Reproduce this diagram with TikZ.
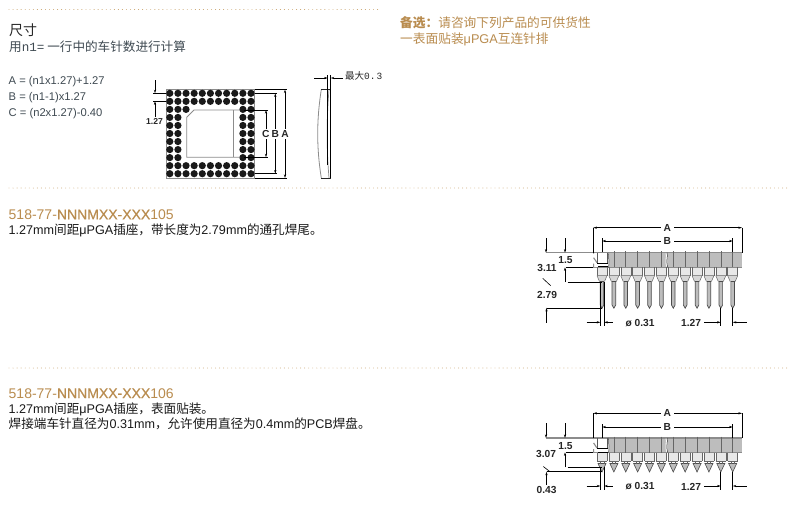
\documentclass[tikz,border=0pt]{standalone}
\usepackage{fontspec}
\setmainfont{Liberation Sans}
\setmonofont{Liberation Mono}
\newfontfamily\cj{Noto Sans CJK SC}
\usetikzlibrary{arrows.meta}
\definecolor{brownish}{HTML}{B98C4F}
\definecolor{dotbrown}{HTML}{C49A5E}
\definecolor{slatetext}{HTML}{3F4A52}
\definecolor{bodygrey}{HTML}{BDBDBD}
\definecolor{edgegrey}{HTML}{8C8C8C}
\tikzset{
  lbl/.style={inner sep=0pt,anchor=base west,text=slatetext},
  dotrule/.style={line width=0.9pt,dotbrown,line cap=round,dash pattern=on 0pt off 4.05pt},
  dimline/.style={line width=0.6pt,black},
  dim/.style={dimline,{Stealth[length=3.6pt,width=2.2pt]}-{Stealth[length=3.6pt,width=2.2pt]}},
  dimto/.style={dimline,-{Stealth[length=3.6pt,width=2.2pt]}},
  dimlbl/.style={inner sep=0pt,font=\bfseries\fontsize{10.2}{11}\selectfont,text=black!85},
  maskd/.style={fill=white,inner sep=1.5pt},
  ball/.style={fill=black!90},
  greyln/.style={line width=0.7pt,edgegrey}
}
\newcommand{\pinbody}[1]{% y of body top
  \foreach \i in {0,...,11}{
    \pgfmathsetmacro{\px}{602+11.88*\i}
    \fill[bodygrey!35] (\px-5,#1+14.6) rectangle (\px+5,#1+23);
  }
  \fill[bodygrey] (609,#1) rectangle (742,#1+14.6);
  \draw[greyln,line width=1.1pt] (546,#1) -- (742,#1);
  \draw[greyln] (593.3,#1+14.6) -- (742,#1+14.6);
  \draw[greyln,line width=1.1pt] (593.6,#1) -- (593.6,#1+1) (593.6,#1+5) -- (597,#1+10) (593.6,#1+14.6) -- (593.6,#1+11);
  \draw[line width=0.5pt,black!75] (608,#1) .. controls (610,#1+4) and (607,#1+5) .. (609,#1+8) .. controls (610,#1+10) and (608,#1+12) .. (608.5,#1+14.6);
  \fill[white] (665.6,#1+0.7) .. controls (667,#1+4) and (664,#1+7) .. (666.5,#1+14.2) -- (668,#1+14.2) .. controls (666,#1+7) and (669,#1+4) .. (667.1,#1+0.7) -- cycle;
  \draw[line width=0.5pt,black!85] (667,#1) .. controls (668.4,#1+4) and (665.4,#1+7) .. (667.8,#1+14.6);
  \draw[line width=0.7pt,black] (597,#1+10.5) -- (608,#1+10.5) (598,#1+14) -- (608,#1+14);
  \draw[line width=0.45pt,black!65] (597.3,#1) -- (597.3,#1+10) (607.3,#1) -- (607.3,#1+10);
  \foreach \i in {0,...,11}{
    \pgfmathsetmacro{\px}{602+11.88*\i}
    \ifnum\i>0
      \draw[line width=0.55pt,black!60] (\px,#1-1.5) -- (\px,#1+14.6);
    \fi
    \draw[line width=0.5pt,black!60] (\px-5,#1+14.6) -- (\px-5,#1+23) (\px+5,#1+14.6) -- (\px+5,#1+23);
  }
}
\begin{document}
\begin{tikzpicture}[x=1pt,y=-1pt]
\useasboundingbox[fill=white] (0,0) rectangle (800,519);

% dotted rules
\coordinate (r1a) at (9,9.5); \coordinate (r1b) at (379,9.5);
\coordinate (r2a) at (9,188); \coordinate (r2b) at (790,188);
\coordinate (r3a) at (9,368); \coordinate (r3b) at (790,368);
\draw[dotrule] (r1a) -- (r1b);
\draw[dotrule] (r2a) -- (r2b);
\draw[dotrule] (r3a) -- (r3b);

% heading text
\node[lbl,text=black!85,font=\fontsize{14}{16}\selectfont] (title) at (9,36) {\cj 尺寸};
\node[lbl,font=\fontsize{12.6}{14}\selectfont] (hint) at (9,51.6) {\cj 用{\ttfamily n1=} 一行中的车针数进行计算};
\node[lbl,font=\fontsize{11.2}{12}\selectfont] (fa) at (8.5,84.7) {A = (n1x1.27)+1.27};
\node[lbl,font=\fontsize{11.2}{12}\selectfont] (fb) at (8.5,100.7) {B = (n1-1)x1.27};
\node[lbl,font=\fontsize{11.2}{12}\selectfont] (fc) at (8.5,116.7) {C = (n2x1.27)-0.40};
\node[lbl,text=brownish,font=\fontsize{12.7}{13}\selectfont] (alt1) at (400,28) {\cj {\bfseries 备选：}请咨询下列产品的可供货性};
\node[lbl,text=brownish,font=\fontsize{12.7}{13}\selectfont] (alt2) at (400,44) {\cj 一表面贴装{\fontspec{Liberation Sans}μPGA}互连针排};

% section texts
\node[lbl,text=brownish,font=\fontsize{14}{16}\selectfont] (p1) at (8.5,219.3) {518-77-{\addfontfeatures{FakeBold=0.5}NNNMXX-XXX}105};
\node[lbl,text=black!90,font=\fontsize{12.6}{14}\selectfont] (p1a) at (8.5,234) {1.27mm{\cj 间距}μPGA{\cj 插座，带长度为}2.79mm{\cj 的通孔焊尾。}};
\node[lbl,text=brownish,font=\fontsize{14}{16}\selectfont] (p2) at (8.5,398) {518-77-{\addfontfeatures{FakeBold=0.5}NNNMXX-XXX}106};
\node[lbl,text=black!90,font=\fontsize{12.6}{14}\selectfont] (p2a) at (8.5,413.3) {1.27mm{\cj 间距}μPGA{\cj 插座，表面贴装。}};
\node[lbl,text=black!90,font=\fontsize{12.6}{14}\selectfont] (p2b) at (8.5,428.3) {{\cj 焊接端车针直径为}0.31mm{\cj ，允许使用直径为}0.4mm{\cj 的}PCB{\cj 焊盘。}};

% top view: package
\draw[edgegrey,line width=0.7pt] (166,89.5) rectangle (254.5,178);
\draw[edgegrey,line width=1.4pt] (166.3,89.5) -- (166.3,178);
\foreach \r in {0,...,10}{
  \foreach \c in {0,...,10}{
    \pgfmathtruncatemacro{\show}{(\r<2)||(\r>8)||(\c<2)||(\c>8)||(\r==2&&\c==2)?1:0}
    \ifnum\show=1
      \fill[ball] (169.8+8.12*\c,93.3+8.04*\r) circle (3.6pt);
    \fi
  }
}
\draw[edgegrey,line width=0.8pt] (240,110) -- (194,110) -- (186.7,117.3) -- (186.7,157.3) -- (240,157.3);
\draw[edgegrey,line width=0.8pt] (233.5,110) -- (233.5,157.3);

% top view: dimensions
\draw[dimline] (254.5,89.5) -- (287,89.5) (254.5,178) -- (287,178);
\draw[dimline] (254.5,93.3) -- (277,93.3) (254.5,173.7) -- (277,173.7);
\draw[dimline] (244,110) -- (268,110) (244,157.3) -- (268,157.3);
\draw[dim] (285,89.5) -- (285,178);
\draw[dim] (275.3,93.3) -- (275.3,173.7);
\draw[dim] (266,110) -- (266,157.3);
\node[dimlbl,maskd] (la) at (285,133.7) {A};
\node[dimlbl,maskd] (lb) at (275.3,133.7) {B};
\node[dimlbl,maskd] (lc) at (265.7,133.7) {C};
\draw[dimline] (153,93.3) -- (166,93.3) (153,101.3) -- (166,101.3);
\draw[dimto] (155,80) -- (155,93.3);
\draw[dimto] (155,116.7) -- (155,101.3);
\node[dimlbl,font=\bfseries\fontsize{8.6}{9}\selectfont] (l127) at (154.5,121.5) {1.27};

% side view
\draw[edgegrey,line width=0.8pt] (321.3,89.5) .. controls (316.5,120) and (316.5,148) .. (321.3,178);
\draw[edgegrey,line width=0.7pt] (329,89.5) .. controls (326.5,120) and (326.5,148) .. (329,178);
\draw[line width=0.7pt,black!85] (321.3,89.5) -- (330.7,89.5) (321.3,178) -- (330.7,178);
\draw[line width=0.7pt,black] (330.7,75) -- (330.7,178);
\draw[line width=0.7pt,black] (327.7,75) -- (327.7,165);
\draw[dimto] (314,78) -- (327.7,78);
\draw[dimto] (343,78) -- (330.7,78);
\node[lbl,text=black!85,font=\fontsize{9.5}{11}\selectfont] (lmax) at (345,79) {\cj 最大{\fontspec{Liberation Mono}0.\kern1pt 3}};

% socket 105
\pinbody{252.7}
\foreach \i in {0,...,11}{
  \pgfmathsetmacro{\px}{602+11.88*\i}
  \fill[bodygrey!60] (\px-5,275.7) -- (\px+5,275.7) -- (\px+2.5,281.5) -- (\px-2.5,281.5) -- cycle;
  \draw[line width=0.5pt,black!60] (\px-5,275.7) -- (\px+5,275.7) (\px-5,275.7) -- (\px-2.5,281.5) (\px+5,275.7) -- (\px+2.5,281.5);
  \draw[line width=0.7pt,black!70,fill=bodygrey] (\px-1.8,281.5) -- (\px-1.8,305) -- (\px,308.2) -- (\px+1.8,305) -- (\px+1.8,281.5) -- cycle;
}
\draw[dimline] (593.3,227.7) -- (593.3,252.7);
\draw[dimline] (742,227.7) -- (742,252.7);
\draw[dim] (593.3,227.7) -- (742,227.7);
\node[dimlbl,maskd,inner xsep=3pt] (a1) at (667.3,227.7) {A};
\draw[dimline] (602.3,238) -- (602.3,252);
\draw[dimline] (732.7,238) -- (732.7,252);
\draw[dim] (602.3,241) -- (732.7,241);
\node[dimlbl,maskd,inner xsep=3pt] (b1) at (667.3,241) {B};
\draw[dimline] (566,267.3) -- (593.3,267.3);
\draw[dimto] (546,238) -- (546,252.7);
\draw[dimto] (565,238) -- (565,252.7);
\draw[dimto] (565,282) -- (565,267.3);
\draw[dimline] (567.7,282) -- (601.7,282);
\draw[dimline] (542.7,278.3) -- (550.7,285.7);
\draw[dimline] (546.5,307.8) -- (601.7,307.8);
\draw[dimto] (546.5,322.7) -- (546.5,307.8);
\node[dimlbl] (d15a) at (565.5,260.5) {1.5};
\node[dimlbl] (d311) at (547,268) {3.11};
\node[dimlbl] (d279) at (547,295.3) {2.79};
\draw[dimline] (600.4,282) -- (600.4,326) (604.2,282) -- (604.2,326);
\draw[dimto] (586.7,322.3) -- (600.4,322.3);
\draw[dimto] (612.7,322.3) -- (604.2,322.3);
\node[dimlbl] (dd1) at (640,323) {ø 0.31};
\draw[dimline] (720.7,308) -- (720.7,326) (732.7,308) -- (732.7,326);
\draw[dimto] (704.3,322.3) -- (720.7,322.3);
\draw[dimto] (746.7,322.3) -- (732.7,322.3);
\node[dimlbl] (d127a) at (691,323) {1.27};

% socket 106
\pinbody{438}
\foreach \i in {0,...,11}{
  \pgfmathsetmacro{\px}{602+11.88*\i}
  \draw[line width=0.5pt,black!60] (\px-5,461) -- (\px+5,461);
  \draw[line width=0.6pt,black!70,fill=bodygrey] (\px-4,463.5) -- (\px,472) -- (\px+4,463.5) -- cycle;
  \draw[line width=0.5pt,black!60] (\px-1.8,461) -- (\px-1.8,463.5) (\px+1.8,461) -- (\px+1.8,463.5);
}
\draw[dimline] (593.3,413.3) -- (593.3,438);
\draw[dimline] (742,413.3) -- (742,438);
\draw[dim] (593.3,413.3) -- (742,413.3);
\node[dimlbl,maskd,inner xsep=3pt] (a2) at (667.3,413.3) {A};
\draw[dimline] (602.3,424) -- (602.3,438);
\draw[dimline] (732.7,424) -- (732.7,438);
\draw[dim] (602.3,427) -- (732.7,427);
\node[dimlbl,maskd,inner xsep=3pt] (b2) at (667.3,427) {B};
\draw[dimline] (566,452.3) -- (593.3,452.3);
\draw[dimto] (546,423) -- (546,438);
\draw[dimto] (565,423) -- (565,438);
\draw[dimto] (565,467.3) -- (565,452.3);
\draw[dimline] (567.7,467.3) -- (601.7,467.3);
\draw[dimline] (543.3,466.5) -- (550,471.7);
\draw[dimline] (546.5,471.7) -- (601.7,471.7);
\draw[dimto] (546.5,485) -- (546.5,471.7);
\node[dimlbl] (d15b) at (565.5,446.5) {1.5};
\node[dimlbl] (d307) at (546,454) {3.07};
\node[dimlbl] (d043) at (546.5,490.3) {0.43};
\draw[dimline] (600.4,467) -- (600.4,490) (604.2,467) -- (604.2,490);
\draw[dimto] (586.7,486) -- (600.4,486);
\draw[dimto] (612.7,486) -- (604.2,486);
\node[dimlbl] (dd2) at (640,486.5) {ø 0.31};
\draw[dimline] (720.7,472) -- (720.7,490) (732.7,472) -- (732.7,490);
\draw[dimto] (704.3,486) -- (720.7,486);
\draw[dimto] (746.7,486) -- (732.7,486);
\node[dimlbl] (d127b) at (691,486.5) {1.27};
\end{tikzpicture}
\end{document}
